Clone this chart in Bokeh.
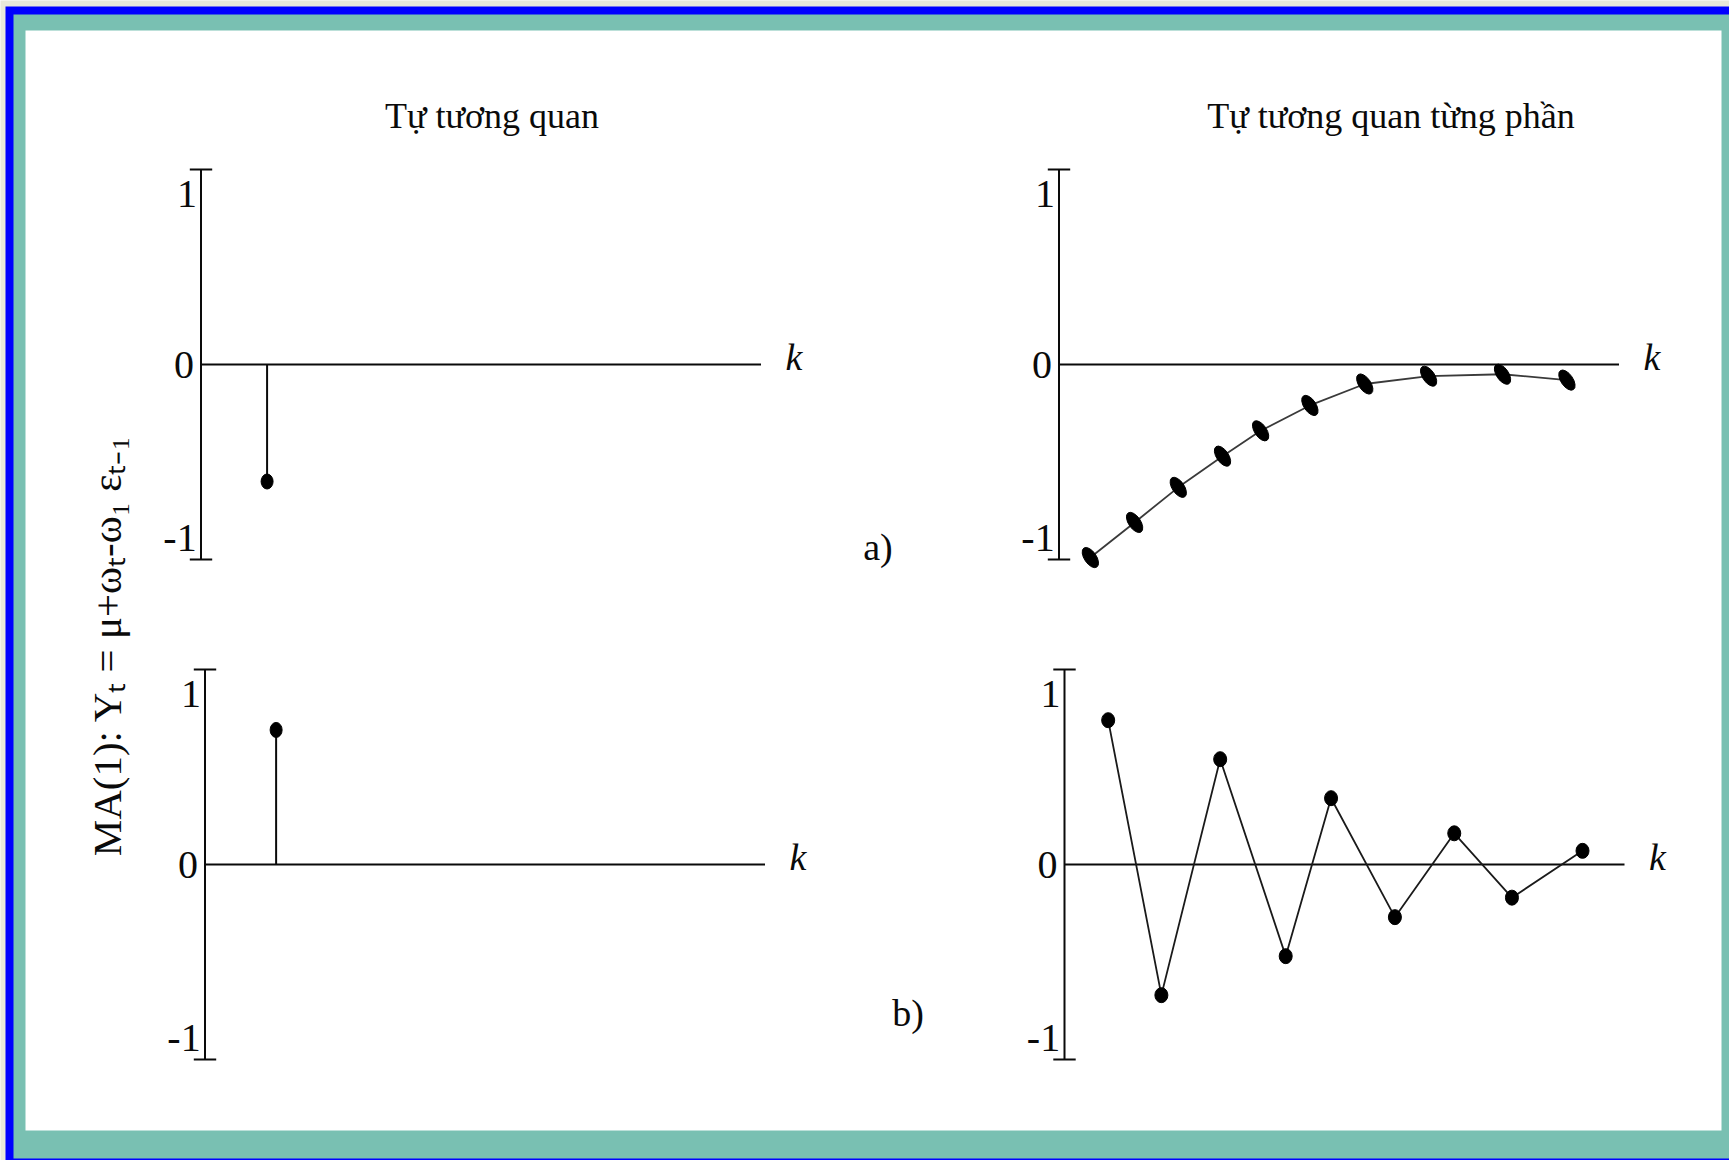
import math

from bokeh.core.properties import value
from bokeh.embed import file_html
from bokeh.models import Range1d
from bokeh.plotting import figure
from bokeh.resources import INLINE

# ---- data -------------------------------------------------------------
# a) autocorrelation: a single spike at lag 1
acf_a_lag = [1.18]
acf_a = [-0.60]
# a) partial autocorrelation: damped, smoothly rising towards zero
pacf_a_lag = [0.56, 1.35, 2.13, 2.92, 3.60, 4.48, 5.46, 6.60, 7.92, 9.07]
pacf_a = [-0.99, -0.81, -0.63, -0.47, -0.34, -0.21, -0.10, -0.06, -0.05, -0.08]
# b) autocorrelation: a single positive spike at lag 1
acf_b_lag = [1.27]
acf_b = [0.69]
# b) partial autocorrelation: damped, alternating sign
pacf_b_lag = [0.78, 1.73, 2.78, 3.95, 4.76, 5.90, 6.96, 7.99, 9.25]
pacf_b = [0.74, -0.67, 0.54, -0.47, 0.34, -0.27, 0.16, -0.17, 0.07]

tick_values = [1, 0, -1]
tick_labels = ["1", "0", "-1"]
col_titles = ["Tự tương quan", "Tự tương quan từng phần"]
row_tags = ["a)", "b)"]
side_label = "MA(1): Yₜ = μ+ωₜ-ω₁ εₜ₋₁"

# ---- page geometry (pixels from the top-left corner) -------------------
W, H = 1729, 1160
SX, SY = 56.0, 195.0          # pixels per lag unit / per correlation unit
KMAX = 10                     # length of the k axis in lag units
CAP = 0.2                     # half width of the end caps on the vertical axes
SERIF = value("Liberation Serif")
INK = "#0A0A0A"

# origin (y axis x position, zero line y position) of each panel
panels = {
    "acf_a": (200.5, 364.0),
    "pacf_a": (1058.5, 364.0),
    "acf_b": (204.5, 864.0),
    "pacf_b": (1064.0, 864.0),
}

p = figure(
    width=W, height=H,
    x_range=Range1d(0, W), y_range=Range1d(H, 0),
    x_axis_type=None, y_axis_type=None,
    output_backend="svg", toolbar_location=None,
    min_border=0, min_border_left=0, min_border_right=0,
    min_border_top=0, min_border_bottom=0,
)
p.outline_line_color = None
p.background_fill_color = "#E8E8DA"
p.border_fill_color = "#E8E8DA"
for g in p.grid:
    g.visible = False

# slide frame: blue rule, teal band, white card
p.quad(left=[5], right=[1760], top=[6], bottom=[1190], fill_color="#0000FF", line_color=None)
p.quad(left=[13], right=[1760], top=[14], bottom=[1158], fill_color="#79C0B2", line_color=None)
p.quad(left=[25], right=[1721], top=[30], bottom=[1130], fill_color="#FFFFFF", line_color=None)

# one pair of scales per panel
for name, (x0, y0) in panels.items():
    p.extra_x_ranges[name] = Range1d(-x0 / SX, (W - x0) / SX)
    p.extra_y_ranges[name] = Range1d((y0 - H) / SY, y0 / SY)


def draw_axes(name):
    kw = dict(x_range_name=name, y_range_name=name)
    p.segment(x0=[0, -CAP, -CAP, 0], y0=[-1, 1, -1, 0],
              x1=[0, CAP, CAP, KMAX], y1=[1, 1, -1, 0],
              line_color=INK, line_width=2, **kw)
    p.text(x=[0, 0, 0], y=tick_values, text=tick_labels,
           x_offset=[-14, -17, -21], y_offset=[24, 0, -22],
           text_align="center", text_baseline="middle",
           text_font=SERIF, text_font_size="40px", text_color=INK, **kw)
    p.text(x=[KMAX], y=[0], text=["k"], x_offset=33, y_offset=-8,
           text_align="center", text_baseline="middle",
           text_font=SERIF, text_font_style="italic",
           text_font_size="38px", text_color=INK, **kw)


for name in panels:
    draw_axes(name)

# column titles
p.text(x=[KMAX / 2], y=[1], text=[col_titles[0]], x_offset=11, y_offset=-54,
       text_align="center", text_baseline="middle", text_font=SERIF,
       text_font_size="36px", text_color=INK,
       x_range_name="acf_a", y_range_name="acf_a")
p.text(x=[KMAX / 2], y=[1], text=[col_titles[1]], x_offset=52, y_offset=-54,
       text_align="center", text_baseline="middle", text_font=SERIF,
       text_font_size="36px", text_color=INK,
       x_range_name="pacf_a", y_range_name="pacf_a")

# row tags
p.text(x=[KMAX], y=[-1], text=[row_tags[0]], x_offset=117, y_offset=-13,
       text_align="center", text_baseline="middle", text_font=SERIF,
       text_font_size="38px", text_color=INK,
       x_range_name="acf_a", y_range_name="acf_a")
p.text(x=[KMAX], y=[-1], text=[row_tags[1]], x_offset=143, y_offset=-47,
       text_align="center", text_baseline="middle", text_font=SERIF,
       text_font_size="38px", text_color=INK,
       x_range_name="acf_b", y_range_name="acf_b")

# autocorrelation spikes
for name, lags, vals in (("acf_a", acf_a_lag, acf_a), ("acf_b", acf_b_lag, acf_b)):
    p.segment(x0=lags, y0=[0] * len(lags), x1=lags, y1=vals,
              line_color=INK, line_width=2,
              x_range_name=name, y_range_name=name)
    p.ellipse(x=lags, y=vals, width=12, height=15,
              width_units="screen", height_units="screen",
              fill_color="#000000", line_color="#000000",
              x_range_name=name, y_range_name=name)

# partial autocorrelation, case a)
p.line(x=pacf_a_lag, y=pacf_a, line_color="#3A3A3A", line_width=1.8,
       x_range_name="pacf_a", y_range_name="pacf_a")
p.ellipse(x=pacf_a_lag, y=pacf_a, width=12, height=23, angle=0.6,
          width_units="screen", height_units="screen",
          fill_color="#000000", line_color="#000000",
          x_range_name="pacf_a", y_range_name="pacf_a")

# partial autocorrelation, case b)
p.line(x=pacf_b_lag, y=pacf_b, line_color="#1A1A1A", line_width=1.8,
       x_range_name="pacf_b", y_range_name="pacf_b")
p.ellipse(x=pacf_b_lag, y=pacf_b, width=13, height=15,
          width_units="screen", height_units="screen",
          fill_color="#000000", line_color="#000000",
          x_range_name="pacf_b", y_range_name="pacf_b")

# model label running up the left margin
p.text(x=[106], y=[645], text=[side_label], angle=math.pi / 2,
       text_align="center", text_baseline="middle", text_font=SERIF,
       text_font_size="41px", text_color=INK)

open("out.html", "w").write(file_html(p, INLINE))
